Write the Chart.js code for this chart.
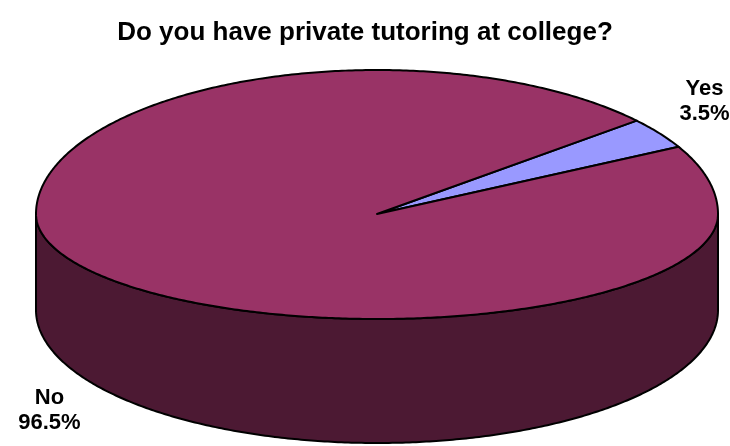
<!DOCTYPE html>
<html>
<head>
<meta charset="utf-8">
<script src="https://cdn.jsdelivr.net/npm/chart.js@4"></script>
<style>
  body { margin: 0; background: #fff; }
</style>
</head>
<body>
<canvas id="chart" width="730" height="446"></canvas>
<script>
const labels = ['Yes', 'No'];
const values = [3.5, 96.5];
const colors = ['#9999FF', '#993366'];
const sideColors = ['#4C4C80', '#4C1933'];

// geometry of the tilted disc (top face, lower rim)
const disc = { cx: 377, cy: 214, rx: 341, ryUp: 144, ryDn: 105, cyB: 310, ryB: 133 };

function topPt(t) {
  const s = Math.sin(t);
  return [disc.cx + disc.rx * Math.cos(t), disc.cy + (s < 0 ? disc.ryUp : disc.ryDn) * s];
}
function botPt(t) {
  return [disc.cx + disc.rx * Math.cos(t), disc.cyB + disc.ryB * Math.sin(t)];
}

function trace(ctx, fn, a, b, first) {
  const n = Math.max(2, Math.ceil(Math.abs(b - a) / 0.01));
  for (let i = 0; i <= n; i++) {
    const p = fn(a + (b - a) * i / n);
    if (i === 0 && first) ctx.moveTo(p[0], p[1]);
    else ctx.lineTo(p[0], p[1]);
  }
}

const pie3d = {
  id: 'pie3d',
  beforeDatasetsDraw(chart) {
    const ctx = chart.ctx;
    const meta = chart.getDatasetMeta(0);
    ctx.save();
    ctx.lineWidth = 2;
    ctx.lineJoin = 'round';
    ctx.strokeStyle = '#000';

    // side walls, only the front half is visible
    meta.data.forEach((arc, i) => {
      const a = arc.startAngle, b = arc.endAngle;
      for (let k = -1; k <= 1; k++) {
        const lo = Math.max(a, 2 * Math.PI * k);
        const hi = Math.min(b, 2 * Math.PI * k + Math.PI);
        if (lo >= hi) continue;
        ctx.beginPath();
        trace(ctx, topPt, lo, hi, true);
        trace(ctx, botPt, hi, lo, false);
        ctx.closePath();
        ctx.fillStyle = sideColors[i];
        ctx.fill();
        ctx.stroke();
      }
    });

    // top face
    meta.data.forEach((arc, i) => {
      ctx.beginPath();
      ctx.moveTo(disc.cx, disc.cy);
      trace(ctx, topPt, arc.startAngle, arc.endAngle, false);
      ctx.closePath();
      ctx.fillStyle = arc.options.backgroundColor;
      ctx.fill();
      ctx.stroke();
    });

    // labels outside each slice
    ctx.fillStyle = '#000';
    ctx.font = 'bold 22px "Liberation Sans", Arial, sans-serif';
    ctx.textAlign = 'center';
    ctx.textBaseline = 'middle';
    meta.data.forEach((arc, i) => {
      const m = (arc.startAngle + arc.endAngle) / 2;
      const s = Math.sin(m);
      const x = disc.cx + disc.rx * 1.16 * Math.cos(m);
      const y = s < 0 ? disc.cy + disc.ryUp * 1.4 * s : disc.cyB + disc.ryB * 1.34 * s;
      ctx.fillText(labels[i], x, y - 12);
      ctx.fillText(values[i].toFixed(1) + '%', x, y + 13);
    });
    ctx.restore();
    return false;
  }
};

new Chart(document.getElementById('chart'), {
  type: 'pie',
  data: {
    labels: labels,
    datasets: [{
      data: values,
      backgroundColor: colors,
      borderWidth: 0
    }]
  },
  options: {
    responsive: false,
    animation: false,
    rotation: 49.6,
    plugins: {
      legend: { display: false },
      tooltip: { enabled: false },
      title: {
        display: true,
        text: 'Do you have private tutoring at college?',
        color: '#000',
        font: { family: '"Liberation Sans", Arial, sans-serif', size: 26, weight: 'bold' },
        padding: { top: 17, bottom: 10 }
      }
    }
  },
  plugins: [pie3d]
});
</script>
</body>
</html>
